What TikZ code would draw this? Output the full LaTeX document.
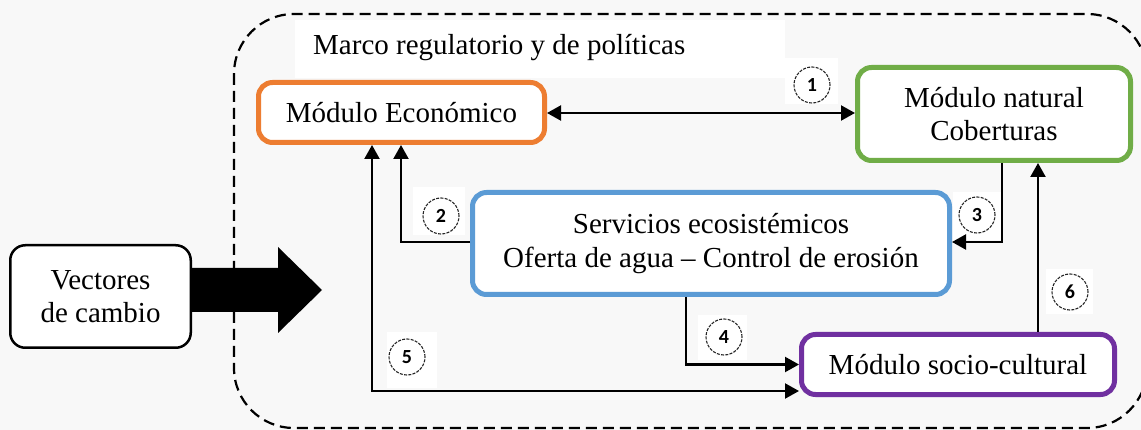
\documentclass[tikz,border=0pt]{standalone}
\usepackage{fontspec}
\setmainfont{Liberation Serif}
\newfontfamily\numfont{Carlito}
\usetikzlibrary{arrows.meta}
\definecolor{bgc}{RGB}{248,248,248}
\definecolor{orangec}{RGB}{237,125,49}
\definecolor{greenc}{RGB}{112,173,71}
\definecolor{bluec}{RGB}{91,155,213}
\definecolor{purplec}{RGB}{112,48,160}
\begin{document}
\begin{tikzpicture}[x=1pt,y=-1pt,
  txt/.style={font=\fontsize{29}{33.5}\selectfont},
  module/.style={txt, draw, line width=5pt, rounded corners=14pt, fill=white, align=center, inner sep=0pt},
  conn/.style={line width=2.2pt, -{Triangle[length=14pt,width=15pt]}},
  dconn/.style={line width=2.2pt, {Triangle[length=14pt,width=15pt]}-{Triangle[length=14pt,width=15pt]}},
  frame/.style={line width=2.2pt, dash pattern=on 11pt off 6pt, rounded corners=60pt},
  pad/.style={fill=white, inner sep=0pt},
  numcirc/.style={circle, draw=black!85, line width=1.1pt, dash pattern=on 3pt off 1.3pt, minimum size=36pt, inner sep=0pt, font=\numfont\bfseries\fontsize{20}{20}\selectfont}
]
\useasboundingbox (0,0) rectangle (1141,430);
\fill[bgc] (0,0) rectangle (1141,430);
% dashed frame
\draw[frame] (234,14) rectangle (1147,428);
% white pads
\node[pad, minimum width=490pt, minimum height=58pt] (marcopad) at (540,49) {};
\node[pad, minimum width=53pt, minimum height=46pt] (p1) at (811.5,81) {};
\node[pad, minimum width=52pt, minimum height=48pt] (p2) at (439,211) {};
\node[pad, minimum width=49pt, minimum height=48pt] (p3) at (977.5,216) {};
\node[pad, minimum width=49pt, minimum height=45pt] (p4) at (722.5,337.5) {};
\node[pad, minimum width=50pt, minimum height=56pt] (p5) at (412,360) {};
\node[pad, minimum width=47pt, minimum height=45pt] (p6) at (1069.5,291.5) {};
\node[txt, anchor=west, inner sep=0pt] (marco) at (313,48) {Marco regulatorio y de políticas};
% modules
\node[module, draw=orangec, minimum width=286pt, minimum height=60pt] (eco) at (401.5,112.5) {Módulo Económico};
\node[module, draw=greenc, minimum width=273pt, minimum height=93pt] (nat) at (994,114) {Módulo natural\\Coberturas};
\node[module, draw=bluec, minimum width=477pt, minimum height=102pt] (ser) at (711,243.5) {Servicios ecosistémicos\\Oferta de agua -- Control de erosión};
\node[module, draw=purplec, minimum width=313pt, minimum height=60pt] (soc) at (958,364.5) {Módulo socio-cultural};
\node[txt, draw, line width=2.5pt, rounded corners=15pt, fill=white, align=center, inner sep=0pt, minimum width=180.5pt, minimum height=102.5pt] (vec) at (100.5,296.5) {Vectores\\de cambio};
% connectors
\draw[dconn] (eco.east |- 0,113) -- (nat.west |- 0,113);
\draw[conn] (ser.west |- 0,242) -| ([xshift=-0.5pt]eco.south);
\draw[dconn] ([xshift=-29.5pt]eco.south) |- ([yshift=-26.5pt]soc.west);
\draw[conn] ([xshift=-25pt]ser.south) |- (soc.west);
\draw[conn] ([xshift=8pt]nat.south) |- (ser.east |- 0,242);
\draw[conn] ([xshift=80pt]soc.north) -- ([xshift=80pt]soc.north |- nat.south);
% big arrow
\coordinate (tip) at (322,290);
\fill (vec.east |- 0,268) -- (278,268) -- (278,247) -- (tip) -- (278,333) -- (278,312) -- (vec.east |- 0,312) -- cycle;
% number circles
\node[numcirc] (c1) at (812,85) {1};
\node[numcirc] (c2) at (441,216) {2};
\node[numcirc] (c3) at (977,215) {3};
\node[numcirc] (c4) at (724,337) {4};
\node[numcirc] (c5) at (407,357) {5};
\node[numcirc] (c6) at (1070,292) {6};
\end{tikzpicture}
\end{document}
